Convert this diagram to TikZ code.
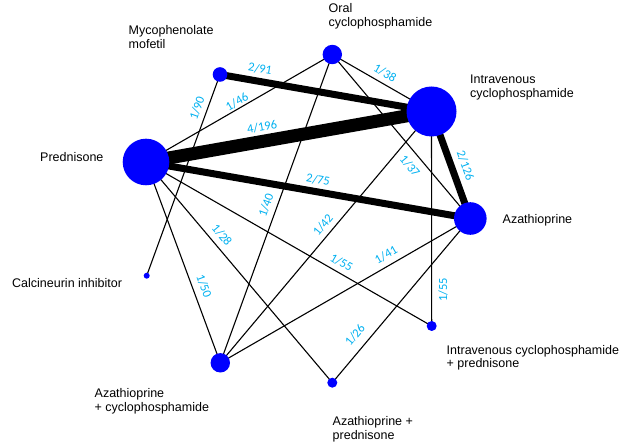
\documentclass[tikz,border=0pt]{standalone}
\usepackage{fontspec}
\setmainfont{Liberation Sans}
\newfontfamily\numfont{Carlito}
\usetikzlibrary{backgrounds}
\definecolor{netblue}{RGB}{0,0,255}
\definecolor{lblblue}{RGB}{0,176,240}
\begin{document}
\begin{tikzpicture}[x=1pt,y=-1pt,
  trt/.style={circle,fill=netblue,inner sep=0pt,minimum size=#1},
  % anchored on the baseline of the last line
  tname/.style={anchor=base west,inner sep=0pt,align=left,
    font=\fontsize{12.5}{13.7}\selectfont},
  ratio/.style={text=lblblue,inner sep=0pt,font=\numfont\fontsize{12.5}{14}\selectfont},
  onestudy/.style={line width=1.1pt},
  twostudy/.style={line width=7pt},
  fourstudy/.style={line width=13pt}]
\useasboundingbox (0,0) rectangle (626,443);

% treatments (circle size ~ number of patients)
\node[trt=46.6pt] (P)  at (146,162) {};
\node[trt=14.6pt] (M)  at (220,74.5) {};
\node[trt=19.4pt] (O)  at (332.3,54.5) {};
\node[trt=50pt]   (I)  at (431.5,111.5) {};
\node[trt=32.6pt] (A)  at (470.3,218.5) {};
\node[trt=6pt]    (C)  at (146.7,275.7) {};
\node[trt=10pt]   (IP) at (431.7,326) {};
\node[trt=19.4pt] (AC) at (220.3,362.8) {};
\node[trt=10pt]   (AP) at (332.3,382.7) {};

% comparisons (width ~ number of trials)
\begin{scope}[on background layer]
  \draw[fourstudy] (P.center) -- (I.center);
  \draw[twostudy]  (M.center) -- (I.center);
  \draw[twostudy]  (P.center) -- (A.center);
  \draw[twostudy]  (I.center) -- (A.center);
  \draw[onestudy]  (O.center) -- (I.center);
  \draw[onestudy]  (O.center) -- (P.center);
  \draw[onestudy]  (M.center) -- (C.center);
  \draw[onestudy]  (O.center) -- (AC.center);
  \draw[onestudy]  (O.center) -- (A.center);
  \draw[onestudy]  (I.center) -- (AC.center);
  \draw[onestudy]  (I.center) -- (IP.center);
  \draw[onestudy]  (P.center) -- (AP.center);
  \draw[onestudy]  (P.center) -- (AC.center);
  \draw[onestudy]  (P.center) -- (IP.center);
  \draw[onestudy]  (A.center) -- (AC.center);
  \draw[onestudy]  (A.center) -- (AP.center);
\end{scope}

% trials / patients per comparison
\node[ratio,rotate=-10] (rMI)  at (260,69)  {2/91};
\node[ratio,rotate=30]  (rPO)  at (237,102) {1/46};
\node[ratio,rotate=70]  (rMC)  at (197,108) {1/90};
\node[ratio,rotate=10]  (rPI)  at (262,127) {4/196};
\node[ratio,rotate=-10] (rPA)  at (318,180) {2/75};
\node[ratio,rotate=-30] (rOI)  at (385,73)  {1/38};
\node[ratio,rotate=-70] (rIA)  at (465.5,165.5) {2/126};
\node[ratio,rotate=-50] (rOA)  at (410,166) {1/37};
\node[ratio,rotate=70]  (rOAC) at (266,205) {1/40};
\node[ratio,rotate=50]  (rIAC) at (323,225) {1/42};
\node[ratio,rotate=-50] (rPAP) at (222,235) {1/28};
\node[ratio,rotate=-30] (rPIP) at (341.5,262.5) {1/55};
\node[ratio,rotate=30]  (rAAC) at (386,255) {1/41};
\node[ratio,rotate=90]  (rIIP) at (443,290) {1/55};
\node[ratio,rotate=50]  (rAAP) at (355,335) {1/26};
\node[ratio,rotate=-70] (rPAC) at (204,286) {1/50};

% treatment names
\node[tname] (tM)  at (128.5,48.7) {Mycophenolate\\mofetil};
\node[tname] (tO)  at (328.5,26.2) {Oral\\cyclophosphamide};
\node[tname] (tI)  at (470,97.7)   {Intravenous\\cyclophosphamide};
\node[tname] (tP)  at (40,161.7)   {Prednisone};
\node[tname] (tA)  at (502.5,223.5){Azathioprine};
\node[tname] (tC)  at (12,287.3)   {Calcineurin inhibitor};
\node[tname] (tIP) at (446.5,367.7){Intravenous cyclophosphamide\\+ prednisone};
\node[tname] (tAC) at (94.5,411)   {Azathioprine\\+ cyclophosphamide};
\node[tname] (tAP) at (332.5,439)  {Azathioprine +\\prednisone};
\end{tikzpicture}
\end{document}
